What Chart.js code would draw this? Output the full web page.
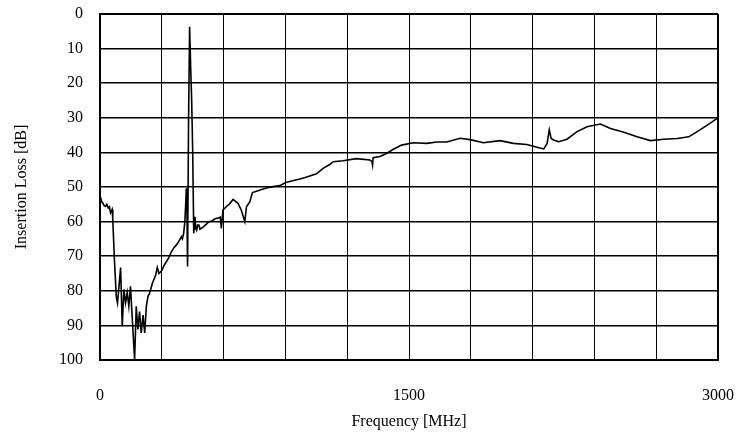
<!DOCTYPE html>
<html>
<head>
<meta charset="utf-8">
<script src="https://cdn.jsdelivr.net/npm/chart.js@4"></script>
<style>
    html, body { margin: 0; padding: 0; background: #fff; }
    #wrap { width: 739px; height: 435px; }
</style>
</head>
<body>
<div id="wrap"><canvas id="chart"></canvas></div>
<script>
// frequency [MHz] and insertion loss [dB]
const freq = [0, 8, 14, 20, 27, 33, 40, 46, 51, 55, 59, 62, 70, 79, 85, 91, 100, 108, 116, 124, 132, 140, 148, 156, 168,
    176, 184, 192, 200, 209, 217, 225, 233, 240, 246, 254, 262, 270, 278, 286, 299, 310, 322, 334, 346, 358, 370, 382, 395, 400, 406, 412, 416, 419,
    422, 425, 430, 435, 440, 445, 450, 455, 458, 461, 465, 469, 474, 480, 485, 490, 502, 515, 527, 543, 559, 572, 584, 589, 597, 613, 630,
    646, 670, 686, 703, 711, 727, 740, 760, 784, 808, 840, 873, 902, 921, 970, 1000, 1051, 1083, 1115, 1132,
    1180, 1245, 1310, 1320, 1323, 1326, 1359, 1391, 1424, 1464, 1521, 1586, 1635, 1683, 1748, 1797, 1861, 1942, 2007, 2072,
    2121, 2154, 2170, 2181, 2190, 2202, 2227, 2267, 2316, 2364, 2429, 2478, 2543, 2607, 2672, 2737, 2802, 2858, 2899, 2948, 3000];
const loss = [52.5, 54.2, 54.7, 55.4, 55.6, 55.0, 56.1, 55.7, 57.5, 57.0, 56.5, 59.4, 71, 81.6, 83.5, 79.6, 73.3, 90.2, 79.6, 83.5, 80.5, 84.5, 78.7, 87.3, 100,
    84.5, 91.2, 86, 92.2, 87, 92.2, 84.5, 81.6, 80.8, 79.6, 77.8, 76.7, 75.5, 73.3, 75, 74.2, 72.8, 71.6, 70.4, 68.8, 67.6, 66.8, 65.8, 64.4, 65.0, 63.4, 60, 55, 50.4,
    56, 73, 30, 3.7, 15, 25, 40, 63.4, 61.5, 58.6, 62.0, 62.5, 61.0, 61, 62.2, 62, 61.5, 60.8, 60.1, 59.8, 59.2, 59.0, 58.7, 62, 56.6, 55.7, 54.8,
    53.6, 54.7, 56.7, 60, 55.7, 54.3, 51.6, 51.2, 50.7, 50.3, 49.9, 49.6, 48.7, 48.4, 47.7, 47.2, 46.2, 44.6, 43.5, 42.7,
    42.4, 41.8, 42.2, 42.6, 43.6, 41.5, 41.2, 40.3, 39.1, 37.9, 37.2, 37.4, 37.0, 37.0, 35.9, 36.3, 37.2, 36.6, 37.4, 37.7,
    38.5, 39.0, 37.5, 33.5, 36, 36.4, 36.9, 36.2, 34.0, 32.6, 31.8, 33.1, 34.2, 35.5, 36.6, 36.2, 36.0, 35.5, 34.0, 32.1, 30.0];
const xLabels = [0, 1500, 3000];

const font = { family: '"Liberation Serif", "Times New Roman", serif', size: 16 };

const points = freq.map((f, i) => ({ x: f, y: loss[i] }));

new Chart(document.getElementById('chart').getContext('2d'), {
    type: 'scatter',
    data: {
        datasets: [{
            data: points,
            showLine: true,
            borderColor: '#000',
            borderWidth: 1.6,
            pointRadius: 0,
            tension: 0
        }]
    },
    options: {
        responsive: true,
        maintainAspectRatio: false,
        animation: false,
        layout: { padding: { top: 14, right: 21, left: 8, bottom: 0 } },
        plugins: { legend: { display: false }, tooltip: { enabled: false } },
        scales: {
            x: {
                type: 'linear',
                min: 0,
                max: 3000,
                afterFit: s => { s.height = 75; s.paddingLeft = 0; s.paddingRight = 0; },
                border: { display: true, color: '#000', width: 2 },
                grid: {
                    color: '#000',
                    drawTicks: false,
                    lineWidth: c => (c.tick && (c.tick.value === 0 || c.tick.value === 3000)) ? 2 : 1
                },
                ticks: {
                    stepSize: 300,
                    padding: 26,
                    color: '#000',
                    font: font,
                    maxRotation: 0,
                    autoSkip: false,
                    callback: v => xLabels.includes(v) ? String(v) : ''
                },
                title: { display: true, text: 'Frequency [MHz]', color: '#000', font: font, padding: { top: 4 } }
            },
            y: {
                min: 0,
                max: 100,
                reverse: true,
                afterFit: s => { s.width = 92; s.paddingTop = 0; s.paddingBottom = 0; },
                border: { display: true, color: '#000', width: 2 },
                grid: {
                    color: '#000',
                    drawTicks: false,
                    lineWidth: c => (c.tick && (c.tick.value === 0 || c.tick.value === 100)) ? 2 : 1.5
                },
                ticks: { stepSize: 10, padding: 17, color: '#000', font: font },
                title: { display: true, text: 'Insertion Loss [dB]', color: '#000', font: font, padding: { bottom: 4 } }
            }
        }
    }
});
</script>
</body>
</html>
